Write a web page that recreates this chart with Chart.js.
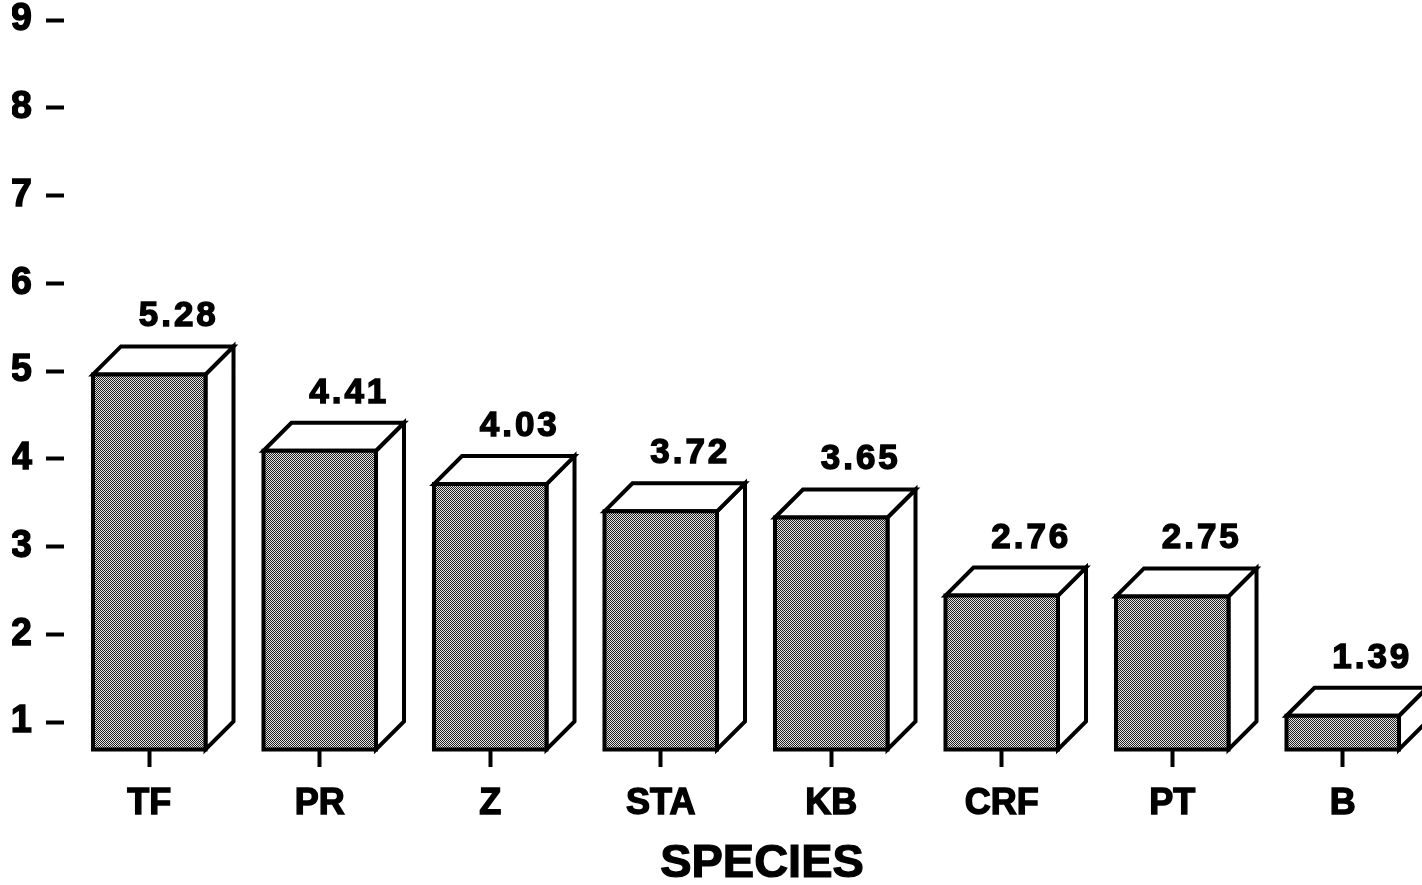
<!DOCTYPE html>
<html>
<head>
<meta charset="utf-8">
<script src="https://cdn.jsdelivr.net/npm/chart.js@4.4.1/dist/chart.umd.min.js"></script>
<style>
  html, body { margin: 0; padding: 0; background: #fff; overflow: hidden; }
  #wrap { width: 1440px; height: 885px; }
</style>
</head>
<body>
<div id="wrap"><canvas id="c" width="1440" height="885"></canvas></div>
<script>
// Species and their values (value = top back edge of each box)
const categories = ['TF', 'PR', 'Z', 'STA', 'KB', 'CRF', 'PT', 'B'];
const values = [5.28, 4.41, 4.03, 3.72, 3.65, 2.76, 2.75, 1.39];
const yMin = 1;
const yMax = 9;
const yStep = 1;
const xTitle = 'SPECIES';

const FONT = "'Liberation Sans', Arial, Helvetica, sans-serif";
const DEPTH = 28;

// Fine dithered fill for the front faces
function makeDither() {
  const t = document.createElement('canvas');
  t.width = 2; t.height = 2;
  const g = t.getContext('2d');
  g.fillStyle = '#e2e2e2'; g.fillRect(0, 0, 2, 2);
  g.fillStyle = '#222'; g.fillRect(0, 0, 1, 1); g.fillRect(1, 1, 1, 1);
  return g.createPattern(t, 'repeat');
}

// Draws each bar as an extruded box with a value label on top
const boxBars = {
  id: 'boxBars',
  afterDatasetsDraw(chart) {
    const ctx = chart.ctx;
    const meta = chart.getDatasetMeta(0);
    const dither = makeDither();
    const d = DEPTH;
    ctx.save();
    ctx.lineJoin = 'miter';
    ctx.strokeStyle = '#000';
    meta.data.forEach((el, i) => {
      const p = el.getProps(['x', 'y', 'base', 'width'], true);
      const x0 = p.x - p.width / 2, x1 = p.x + p.width / 2;
      const yTop = p.y + d, yBot = p.base + d;
      ctx.lineWidth = 4;
      // side face
      ctx.beginPath();
      ctx.moveTo(x1, yTop); ctx.lineTo(x1 + d, p.y); ctx.lineTo(x1 + d, p.base); ctx.lineTo(x1, yBot);
      ctx.closePath();
      ctx.fillStyle = '#fff'; ctx.fill(); ctx.stroke();
      // top face
      ctx.beginPath();
      ctx.moveTo(x0, yTop); ctx.lineTo(x0 + d, p.y); ctx.lineTo(x1 + d, p.y); ctx.lineTo(x1, yTop);
      ctx.closePath();
      ctx.fillStyle = '#fff'; ctx.fill(); ctx.stroke();
      // front face
      ctx.beginPath();
      ctx.rect(x0, yTop, p.width, yBot - yTop);
      ctx.fillStyle = dither; ctx.fill(); ctx.stroke();
      // value label
      ctx.fillStyle = '#000';
      ctx.font = 'bold 35px ' + FONT;
      ctx.letterSpacing = '3px';
      ctx.textAlign = 'center';
      ctx.textBaseline = 'alphabetic';
      ctx.lineWidth = 1.4;
      const lx = p.x + d + 1.5, ly = p.y - 20;
      ctx.fillText(values[i].toFixed(2), lx, ly);
      ctx.strokeText(values[i].toFixed(2), lx, ly);
    });
    ctx.restore();
  },
  afterDraw(chart) {
    // x-axis title below the category labels
    const ctx = chart.ctx;
    ctx.save();
    ctx.fillStyle = '#000';
    ctx.strokeStyle = '#000';
    ctx.lineWidth = 1.2;
    ctx.font = 'bold 47px ' + FONT;
    ctx.textAlign = 'center';
    ctx.textBaseline = 'alphabetic';
    const tx = 762, ty = 877;
    ctx.fillText(xTitle, tx, ty);
    ctx.strokeText(xTitle, tx, ty);
    ctx.restore();
  }
};

new Chart(document.getElementById('c'), {
  type: 'bar',
  data: {
    labels: categories,
    datasets: [{
      data: values,
      base: yMin,
      backgroundColor: 'rgba(0,0,0,0)',
      borderWidth: 0,
      barPercentage: 0.66,
      categoryPercentage: 1
    }]
  },
  options: {
    responsive: false,
    devicePixelRatio: 1,
    animation: false,
    events: [],
    layout: { padding: { left: 12, right: 12, top: 0, bottom: 0 } },
    plugins: { legend: { display: false }, tooltip: { enabled: false } },
    scales: {
      x: {
        grid: {
          offset: false, drawOnChartArea: false, drawTicks: true,
          tickLength: 45, tickWidth: 4, tickColor: '#000'
        },
        border: { display: false },
        ticks: {
          color: '#000', padding: 15,
          textStrokeColor: '#000', textStrokeWidth: 1.4,
          font: { family: FONT, size: 36, weight: 'bold', lineHeight: 1.2 }
        },
        title: { display: false, text: xTitle },
        afterFit(scale) { scale.height = 163; }
      },
      y: {
        min: yMin, max: yMax,
        grid: {
          drawOnChartArea: false, drawTicks: true,
          tickLength: 18, tickWidth: 4, tickColor: '#000'
        },
        border: { display: false },
        ticks: {
          stepSize: yStep, color: '#000', padding: 14,
          textStrokeColor: '#000', textStrokeWidth: 1.4,
          font: { family: FONT, size: 38, weight: 'bold', lineHeight: 1 }
        },
        afterFit(scale) {
          scale.width = 52;
          scale.paddingTop = 20;
          scale.paddingBottom = 0;
        }
      }
    }
  },
  plugins: [boxBars]
});
</script>
</body>
</html>
